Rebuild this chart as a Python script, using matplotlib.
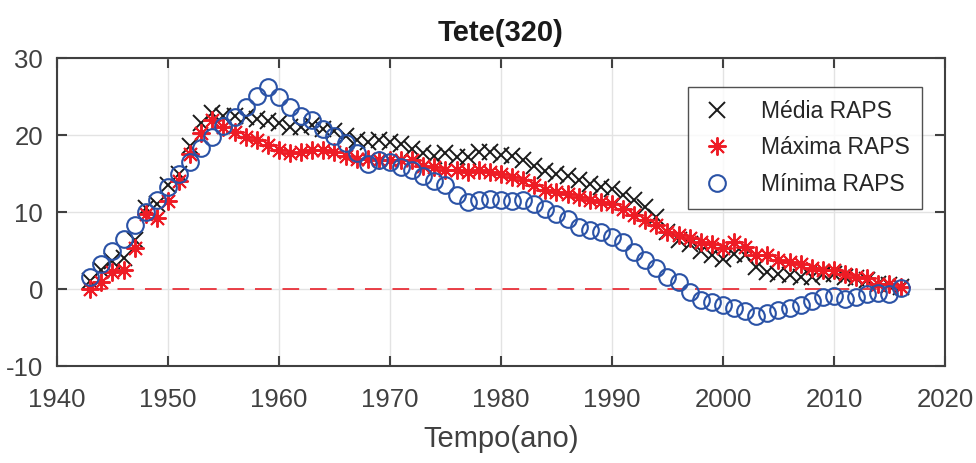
import numpy as np
import matplotlib.pyplot as plt

# -----------------------------
# Data (Tete, station 320)
# -----------------------------

anos = np.arange(1943, 2017)

media = [1.0, 2.5, 3.7, 4.0, 6.3, 10.5, 11.0, 13.5, 15.0, 18.6,
         21.6, 22.8, 22.5, 22.5, 22.4, 22.1, 21.8, 21.6, 21.1, 21.1,
         21.3, 20.8, 20.5, 19.9, 19.3, 19.1, 19.3, 19.1, 18.8, 18.2,
         17.6, 17.3, 17.6, 17.1, 17.1, 17.8, 17.8, 17.4, 17.3, 16.8,
         16.0, 15.3, 15.0, 14.7, 14.1, 13.7, 13.2, 13.0, 12.2, 11.6,
         10.6, 9.4, 7.4, 6.3, 5.9, 4.9, 4.4, 3.9, 4.6, 4.4,
         2.8, 2.2, 2.0, 1.8, 1.6, 1.6, 2.0, 2.0, 1.6, 1.4,
         1.2, 0.7, 0.5, 0.2]

maxima = [0.0, 0.9, 2.2, 2.5, 5.3, 9.8, 9.2, 11.4, 14.0, 17.5,
          20.2, 21.9, 21.1, 20.4, 19.7, 19.4, 18.7, 18.1, 17.7, 17.8,
          18.0, 18.0, 17.8, 17.3, 16.9, 16.9, 16.8, 16.7, 16.7, 16.7,
          16.0, 15.8, 15.4, 15.4, 15.2, 15.4, 15.2, 15.0, 14.6, 14.1,
          13.5, 12.8, 12.6, 12.4, 11.9, 11.5, 11.3, 11.1, 10.4, 9.6,
          9.0, 8.3, 7.4, 7.0, 6.6, 6.1, 5.9, 5.3, 6.1, 5.5,
          4.4, 4.4, 3.8, 3.5, 3.3, 2.7, 2.5, 2.5, 2.0, 1.6,
          1.4, 0.7, 0.7, 0.3]

minima = [1.6, 3.2, 5.0, 6.5, 8.3, 10.0, 11.6, 13.2, 15.0, 16.5,
          18.3, 19.8, 21.2, 22.3, 23.6, 25.1, 26.3, 24.9, 23.6, 22.5,
          21.9, 20.8, 19.9, 18.9, 17.6, 16.2, 16.7, 16.5, 15.8, 15.4,
          14.7, 14.0, 13.5, 12.2, 11.3, 11.5, 11.7, 11.5, 11.4, 11.6,
          11.0, 10.4, 9.8, 9.1, 8.1, 7.6, 7.4, 6.8, 6.1, 4.8,
          3.8, 2.7, 1.6, 0.9, -0.4, -1.4, -1.7, -2.1, -2.5, -2.9,
          -3.5, -3.1, -2.7, -2.5, -2.1, -1.5, -1.0, -0.9, -1.3, -1.1,
          -0.7, -0.5, -0.7, 0.1]

xticks = [1940, 1950, 1960, 1970, 1980, 1990, 2000, 2010, 2020]
yticks = [-10, 0, 10, 20, 30]

# -----------------------------
# Style (MATLAB-like)
# -----------------------------

plt.rcParams['font.family'] = ['Liberation Sans', 'DejaVu Sans']
plt.rcParams['axes.unicode_minus'] = False
eixo = "#404040"

fig = plt.figure(figsize=(9.76, 4.63), dpi=100)
ax = fig.add_axes([0.0584, 0.2095, 0.9098, 0.6652])

ax.plot([anos[0], anos[-1]], [0, 0], color="#e8202a", lw=1.2,
        dashes=(10, 6.5), zorder=1)

ax.plot(anos, media, ls="none", marker="x", ms=11, mew=1.4,
        color="#1a1a1a", label="Média RAPS", zorder=3)
ax.plot(anos, maxima, ls="none", marker=(8, 2, 0), ms=13, mew=1.4,
        color="#ee1c25", label="Máxima RAPS", zorder=4)
ax.plot(anos, minima, ls="none", marker="o", ms=12, mew=1.5,
        mfc="none", color="#2a52a6", label="Mínima RAPS", zorder=5)

ax.set_xlim(1940, 2020)
ax.set_ylim(-10, 30)
ax.set_xticks(xticks)
ax.set_yticks(yticks)
ax.grid(True, color="#e3e3e3", lw=1.0)
ax.set_axisbelow(True)

ax.tick_params(direction="in", length=7, width=1.5, color=eixo,
               labelcolor=eixo, labelsize=18.5, top=True, right=True)
ax.tick_params(axis="x", pad=16)
ax.tick_params(axis="y", pad=10)
for s in ax.spines.values():
    s.set_color(eixo)
    s.set_linewidth(1.5)

ax.set_xlabel("Tempo(ano)", fontsize=21, color=eixo, labelpad=9)
ax.set_title("Tete(320)", fontsize=21, fontweight="bold", color="#1a1a1a", pad=12)

leg = ax.legend(loc="upper right", bbox_to_anchor=(0.974, 0.906),
                fontsize=16.5, frameon=True, fancybox=False, edgecolor="#262626",
                borderpad=0.55, labelspacing=0.6, handlelength=1.4,
                handletextpad=1.2, borderaxespad=0)
leg.get_frame().set_linewidth(1.0)
for t in leg.get_texts():
    t.set_color("#262626")

plt.savefig("out.png", dpi=100)
